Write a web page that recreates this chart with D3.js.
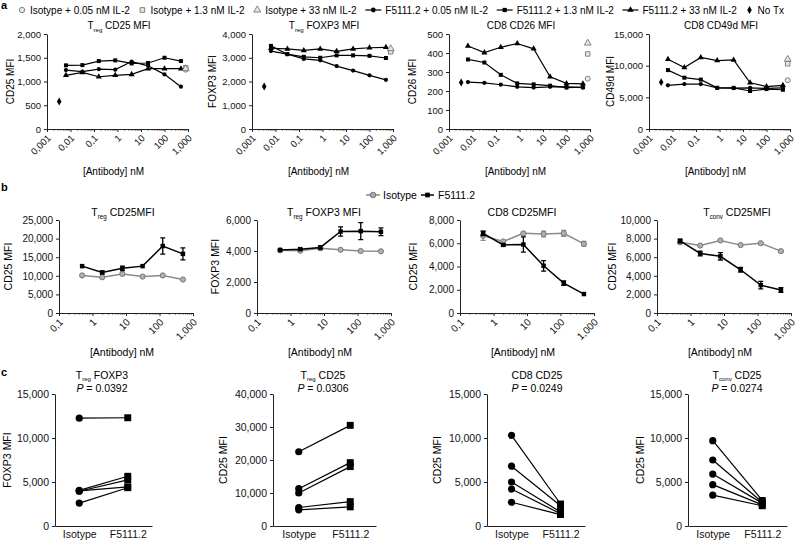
<!DOCTYPE html>
<html><head><meta charset="utf-8">
<script src="https://cdn.jsdelivr.net/npm/d3@7"></script>
<style>
body{margin:0;background:#fff;}
svg{font-family:"Liberation Sans",Arial,Helvetica,sans-serif;}
</style></head><body>
<svg id="c" width="800" height="543"></svg>
<script>
// ===== DATA =====
// Panel a
const aConc = [0.0064, 0.032, 0.16, 0.8, 4, 20, 100, 500];
const aIsoConc = 800;
const aNoTxConc = 0.0033;
const aTickValues = [0.001, 0.01, 0.1, 1, 10, 100, 1000];
const aTickLabels = ["0,001", "0,01", "0,1", "1", "10", "100", "1,000"];
const aLegendLabels = ["Isotype + 0.05 nM IL-2", "Isotype + 1.3 nM IL-2", "Isotype + 33 nM IL-2",
  "F5111.2 + 0.05 nM IL-2", "F5111.2 + 1.3 nM IL-2", "F5111.2 + 33 nM IL-2", "No Tx"];
const aTitles = ["T|reg| CD25 MFI", "T|reg| FOXP3 MFI", "CD8 CD26 MFI", "CD8 CD49d MFI"];
const aYLabels = ["CD25 MFI", "FOXP3 MFI", "CD26 MFI", "CD49d MFI"];
const aYMax = [2000, 4000, 500, 15000];
const aYStep = [500, 1000, 100, 5000];
// series per chart: F5111.2 with IL-2 0.05 / 1.3 / 33 nM
const aTregCD25_low  = [1240, 1210, 1260, 1250, 1420, 1330, 1150, 890];
const aTregCD25_mid  = [1340, 1345, 1430, 1445, 1380, 1390, 1500, 1430];
const aTregCD25_high = [1130, 1190, 1100, 1130, 1150, 1270, 1270, 1270];
const aTregCD25_iso  = [1250, 1290, 1270];
const aTregCD25_noTx = 580;
const aTregFOXP3_low  = [3280, 3150, 2950, 2890, 2650, 2460, 2260, 2070];
const aTregFOXP3_mid  = [3500, 3150, 3040, 3000, 3100, 3100, 3080, 2990];
const aTregFOXP3_high = [3400, 3370, 3310, 3370, 3270, 3370, 3420, 3440];
const aTregFOXP3_iso  = [3300, 3250, 3380];
const aTregFOXP3_noTx = 1790;
const aCD8CD26_low  = [247, 243, 233, 222, 218, 222, 222, 218];
const aCD8CD26_mid  = [366, 350, 285, 240, 235, 228, 218, 220];
const aCD8CD26_high = [437, 402, 430, 450, 422, 275, 240, 238];
const aCD8CD26_iso  = [265, 395, 452];
const aCD8CD26_noTx = 245;
const aCD8CD49d_low  = [6900, 7100, 7100, 6500, 6450, 6500, 6400, 6500];
const aCD8CD49d_mid  = [9300, 8100, 7800, 6500, 6500, 6000, 6300, 6200];
const aCD8CD49d_high = [11000, 9700, 11300, 10800, 10900, 7300, 6700, 6900];
const aCD8CD49d_iso  = [7700, 10300, 11000];
const aCD8CD49d_noTx = 7400;

// Panel b
const bConc = [0.49, 1.95, 7.8, 31.3, 125, 500];
const bTickValues = [0.1, 1, 10, 100, 1000];
const bTickLabels = ["0,1", "1", "10", "100", "1,000"];
const bLegendLabels = ["Isotype", "F5111.2"];
const bTitles = ["T|reg| CD25MFI", "T|reg| FOXP3 MFI", "CD8 CD25MFI", "T|conv| CD25MFI"];
const bYLabels = ["CD25 MFI", "FOXP3 MFI", "CD25 MFI", "CD25 MFI"];
const bYMax = [25000, 6000, 8000, 10000];
const bYStep = [5000, 2000, 2000, 2000];
const bTregCD25_F = [12600, 10900, 12000, 12600, 18000, 15900];
const bTregCD25_Ferr = [0, 400, 600, 0, 2200, 1600];
const bTregCD25_iso = [10100, 9600, 10500, 9800, 10100, 9000];
const bTregCD25_isoErr = [0, 0, 0, 0, 0, 0];
const bTregFOXP3_F = [4060, 4120, 4230, 5260, 5280, 5240];
const bTregFOXP3_Ferr = [0, 50, 100, 300, 550, 250];
const bTregFOXP3_iso = [4050, 4020, 4170, 4080, 4000, 3980];
const bTregFOXP3_isoErr = [0, 0, 0, 0, 0, 0];
const bCD8CD25_F = [6850, 5860, 5890, 4060, 2570, 1630];
const bCD8CD25_Ferr = [200, 100, 650, 450, 200, 0];
const bCD8CD25_iso = [6650, 6150, 6850, 6800, 6850, 5950];
const bCD8CD25_isoErr = [400, 100, 100, 250, 250, 200];
const bTconvCD25_F = [7750, 6400, 6100, 4650, 3000, 2470];
const bTconvCD25_Ferr = [200, 250, 400, 250, 400, 250];
const bTconvCD25_iso = [7600, 7250, 7800, 7300, 7500, 6650];
const bTconvCD25_isoErr = [150, 100, 100, 100, 100, 100];

// Panel c
const cCategories = ["Isotype", "F5111.2"];
const cTitles = ["T|reg| FOXP3", "T|reg| CD25", "CD8 CD25", "T|conv| CD25"];
const cPValues = ["0.0392", "0.0306", "0.0249", "0.0274"];
const cYLabels = ["FOXP3 MFI", "CD25 MFI", "CD25 MFI", "CD25 MFI"];
const cYMax = [15000, 40000, 15000, 15000];
const cYStep = [5000, 10000, 5000, 5000];
const cTregFOXP3_iso = [12250, 4050, 3950, 4000, 2600];
const cTregFOXP3_F   = [12300, 5650, 5250, 4450, 4350];
const cTregCD25_iso  = [22500, 11300, 10000, 5600, 4900];
const cTregCD25_F    = [30500, 19200, 18000, 7400, 5800];
const cCD8CD25_iso   = [10300, 6800, 5000, 4200, 2700];
const cCD8CD25_F     = [2500, 2300, 1600, 1400, 1300];
const cTconvCD25_iso = [9700, 7500, 5900, 4700, 3500];
const cTconvCD25_F   = [2900, 2700, 2600, 2400, 2300];

// ===== DRAWING =====
const svg = d3.select("#c");
const AX = "#222";
const GREY = "#8a8a8a";

function rich(sel, str, subSize, shift) {
  const parts = str.split("|");
  let shifted = false;
  parts.forEach((p, i) => {
    if (!p) return;
    const t = sel.append("tspan").text(p);
    if (i % 2 === 1) { t.attr("font-size", subSize).attr("dy", shift); shifted = true; }
    else if (shifted) { t.attr("dy", -shift); shifted = false; }
  });
}
function yLabel(x, y, text, fs) {
  svg.append("text").attr("transform", `translate(${x},${y}) rotate(-90)`)
    .attr("text-anchor", "middle").attr("dy", "0.35em").attr("font-size", fs).text(text);
}
function styleAxis(g, fs) {
  g.attr("font-family", null).attr("font-size", fs);
  g.selectAll("path,line").attr("stroke", AX);
  g.selectAll("text").attr("fill", "#111");
}
function sym(type, size) { return d3.symbol().type(type).size(size)(); }

function logChart(o) {
  const x = d3.scaleLog().domain(o.domain).range([o.x0, o.x0 + o.w]);
  const y = d3.scaleLinear().domain([0, o.yMax]).range([o.yBot, o.yTop]);
  const ya = svg.append("g").attr("transform", `translate(${o.x0},0)`)
    .call(d3.axisLeft(y).tickValues(d3.range(0, o.yMax + 1, o.yStep)).tickSize(3).tickSizeOuter(0).tickFormat(d3.format(",")));
  styleAxis(ya, o.fs);
  const xa = svg.append("g").attr("transform", `translate(0,${o.yBot})`)
    .call(d3.axisBottom(x).tickValues(o.majors).tickSize(3).tickSizeOuter(0).tickFormat((d, i) => o.labels[i]));
  styleAxis(xa, o.fs);
  xa.selectAll("text").attr("x", -4).attr("y", 3).attr("dy", "0.7em")
    .attr("transform", "rotate(-45)").style("text-anchor", "end");
  const minors = [];
  o.majors.slice(0, -1).forEach(m => { for (let k = 2; k < 10; k++) minors.push(m * k); });
  svg.append("g").selectAll("line").data(minors).join("line")
    .attr("x1", d => x(d)).attr("x2", d => x(d)).attr("y1", o.yBot).attr("y2", o.yBot + 1.6)
    .attr("stroke", AX).attr("stroke-width", 0.8);
  const t = svg.append("text").attr("x", o.titleX).attr("y", o.titleY).attr("text-anchor", "middle").attr("font-size", o.titleFs);
  rich(t, o.title, o.titleFs * 0.6, 2.5);
  yLabel(o.yLabX, (o.yTop + o.yBot) / 2, o.yLabel, o.labFs);
  svg.append("text").attr("x", o.x0 + o.w / 2 - 4).attr("y", o.xLabY).attr("text-anchor", "middle")
    .attr("font-size", o.labFs).text("[Antibody] nM");
  return { x, y };
}

// panel labels
svg.append("text").attr("x", 1).attr("y", 9).attr("font-size", 11).attr("font-weight", "bold").text("a");
svg.append("text").attr("x", 1).attr("y", 191).attr("font-size", 11).attr("font-weight", "bold").text("b");
svg.append("text").attr("x", 1).attr("y", 376).attr("font-size", 11).attr("font-weight", "bold").text("c");

// ---- Panel a legend (laid out from measured text widths) ----
const legA = svg.append("g").attr("font-size", 10);
const legAItems = [
  { sym: d3.symbolCircle, grey: true }, { sym: d3.symbolSquare, grey: true }, { sym: d3.symbolTriangle, grey: true },
  { sym: d3.symbolCircle, grey: false }, { sym: d3.symbolSquare, grey: false }, { sym: d3.symbolTriangle, grey: false },
  { sym: d3.symbolDiamond, grey: false, noLine: true }
];
const legTexts = legAItems.map((it, i) => legA.append("text").attr("y", 10).attr("dy", "0.35em").text(aLegendLabels[i]));
const legWidths = legTexts.map(t => t.node().getComputedTextLength());
const mW = legAItems.map(it => (it.grey || it.noLine) ? 8 : 16);
const innerGap = 4;
const startX = 18, endX = 784;
const used = d3.sum(legWidths) + d3.sum(mW) + innerGap * legAItems.length;
const gap = (endX - startX - used) / (legAItems.length - 1);
let cx = startX;
legAItems.forEach((it, i) => {
  const yy = 10, mid = cx + mW[i] / 2;
  if (!it.grey && !it.noLine) {
    legA.append("line").attr("x1", cx).attr("x2", cx + mW[i]).attr("y1", yy).attr("y2", yy).attr("stroke", "#000").attr("stroke-width", 1.2);
  }
  legA.append("path").attr("d", sym(it.sym, it.grey ? 22 : 18)).attr("transform", `translate(${mid},${yy})`)
    .attr("fill", it.grey ? "#e6e6e6" : "#000").attr("stroke", it.grey ? "#777" : "none").attr("stroke-width", 0.9);
  legTexts[i].attr("x", cx + mW[i] + innerGap);
  cx += mW[i] + innerGap + legWidths[i] + gap;
});

// ---- Panel a charts ----
const aData = [
  [aTregCD25_low, aTregCD25_mid, aTregCD25_high, aTregCD25_iso, aTregCD25_noTx],
  [aTregFOXP3_low, aTregFOXP3_mid, aTregFOXP3_high, aTregFOXP3_iso, aTregFOXP3_noTx],
  [aCD8CD26_low, aCD8CD26_mid, aCD8CD26_high, aCD8CD26_iso, aCD8CD26_noTx],
  [aCD8CD49d_low, aCD8CD49d_mid, aCD8CD49d_high, aCD8CD49d_iso, aCD8CD49d_noTx]
];
const aX0 = [47, 252, 449, 649];
const aYLabX = [10, 212, 412, 610];
const aSyms = [d3.symbolCircle, d3.symbolSquare, d3.symbolTriangle];
const aSymSize = [14, 16, 16];
aData.forEach((d, ci) => {
  const { x, y } = logChart({
    domain: [0.001, 1000], x0: aX0[ci], w: 141, yTop: 34, yBot: 129, yMax: aYMax[ci], yStep: aYStep[ci],
    majors: aTickValues, labels: aTickLabels, fs: 9.5, title: aTitles[ci], titleX: aX0[ci] + 72, titleY: 29, titleFs: 10,
    yLabel: aYLabels[ci], yLabX: aYLabX[ci], labFs: 10, xLabY: 175
  });
  const line = d3.line().x(p => x(p[0])).y(p => y(p[1]));
  [0, 1, 2].forEach(si => {
    const pts = aConc.map((c, k) => [c, d[si][k]]);
    svg.append("path").attr("d", line(pts)).attr("fill", "none").attr("stroke", "#000").attr("stroke-width", 1.2);
    svg.append("g").selectAll("path").data(pts).join("path").attr("d", sym(aSyms[si], aSymSize[si]))
      .attr("transform", p => `translate(${x(p[0])},${y(p[1])})`).attr("fill", "#000");
  });
  d[3].forEach((v, si) => {
    svg.append("path").attr("d", sym(aSyms[si], 20)).attr("transform", `translate(${x(aIsoConc)},${y(v)})`)
      .attr("fill", "#e6e6e6").attr("stroke", "#777").attr("stroke-width", 0.9);
  });
  svg.append("path").attr("d", sym(d3.symbolDiamond, 18)).attr("transform", `translate(${x(aNoTxConc)},${y(d[4])})`).attr("fill", "#000");
});

// ---- Panel b legend ----
const legB = svg.append("g").attr("font-size", 10.5);
legB.append("line").attr("x1", 366).attr("x2", 380).attr("y1", 195).attr("y2", 195).attr("stroke", GREY).attr("stroke-width", 1.5);
legB.append("circle").attr("cx", 373).attr("cy", 195).attr("r", 2.8).attr("fill", "#aaa").attr("stroke", "#777");
legB.append("text").attr("x", 383).attr("y", 195).attr("dy", "0.35em").text(bLegendLabels[0]);
legB.append("line").attr("x1", 421).attr("x2", 434).attr("y1", 195).attr("y2", 195).attr("stroke", "#000").attr("stroke-width", 1.5);
legB.append("path").attr("d", sym(d3.symbolSquare, 22)).attr("transform", "translate(427.5,195)").attr("fill", "#000");
legB.append("text").attr("x", 438).attr("y", 195).attr("dy", "0.35em").text(bLegendLabels[1]);

// ---- Panel b charts ----
const bData = [
  [bTregCD25_F, bTregCD25_Ferr, bTregCD25_iso, bTregCD25_isoErr],
  [bTregFOXP3_F, bTregFOXP3_Ferr, bTregFOXP3_iso, bTregFOXP3_isoErr],
  [bCD8CD25_F, bCD8CD25_Ferr, bCD8CD25_iso, bCD8CD25_isoErr],
  [bTconvCD25_F, bTconvCD25_Ferr, bTconvCD25_iso, bTconvCD25_isoErr]
];
const bX0 = [59, 257, 460, 657];
const bTitleX = [123, 324, 522, 737];
const bYLabX = [8, 215, 413, 612];
bData.forEach((d, ci) => {
  const { x, y } = logChart({
    domain: [0.1, 1000], x0: bX0[ci], w: 134, yTop: 220, yBot: 313, yMax: bYMax[ci], yStep: bYStep[ci],
    majors: bTickValues, labels: bTickLabels, fs: 10, title: bTitles[ci], titleX: bTitleX[ci], titleY: 216, titleFs: 10.5,
    yLabel: bYLabels[ci], yLabX: bYLabX[ci], labFs: 10.5, xLabY: 356
  });
  const line = d3.line().x(p => x(p[0])).y(p => y(p[1]));
  const drawSeries = (vals, errs, color, isIso) => {
    const pts = bConc.map((c, k) => [c, vals[k], errs[k]]);
    const g = svg.append("g");
    g.append("path").attr("d", line(pts)).attr("fill", "none").attr("stroke", color).attr("stroke-width", 1.5);
    pts.filter(p => p[2] > 0).forEach(p => {
      const xx = x(p[0]), y1 = y(p[1] - p[2]), y2 = y(p[1] + p[2]);
      g.append("path").attr("d", `M${xx},${y1}V${y2}M${xx - 2.5},${y1}H${xx + 2.5}M${xx - 2.5},${y2}H${xx + 2.5}`)
        .attr("stroke", color).attr("stroke-width", 1.3).attr("fill", "none");
    });
    if (isIso) {
      g.selectAll("circle").data(pts).join("circle").attr("cx", p => x(p[0])).attr("cy", p => y(p[1]))
        .attr("r", 2.6).attr("fill", "#b0b0b0").attr("stroke", "#777").attr("stroke-width", 1);
    } else {
      g.selectAll(".m").data(pts).join("path").attr("d", sym(d3.symbolSquare, 20))
        .attr("transform", p => `translate(${x(p[0])},${y(p[1])})`).attr("fill", "#000");
    }
  };
  drawSeries(d[2], d[3], GREY, true);
  drawSeries(d[0], d[1], "#000", false);
});

// ---- Panel c charts ----
const cData = [
  [cTregFOXP3_iso, cTregFOXP3_F], [cTregCD25_iso, cTregCD25_F],
  [cCD8CD25_iso, cCD8CD25_F], [cTconvCD25_iso, cTconvCD25_F]
];
const cX0 = [55, 273, 487, 688];
const cW = [97, 103, 98, 99];
const cTitleX = [102, 323, 537, 737];
const cYLabX = [7, 223, 437, 640];
cData.forEach((d, ci) => {
  const x = d3.scalePoint().domain(cCategories).range([cX0[ci], cX0[ci] + cW[ci]]).padding(0.5);
  const y = d3.scaleLinear().domain([0, cYMax[ci]]).range([526, 394]);
  const ya = svg.append("g").attr("transform", `translate(${cX0[ci]},0)`)
    .call(d3.axisLeft(y).tickValues(d3.range(0, cYMax[ci] + 1, cYStep[ci])).tickSize(3).tickSizeOuter(0).tickFormat(d3.format(",")));
  styleAxis(ya, 10.5);
  const xa = svg.append("g").attr("transform", "translate(0,526)")
    .call(d3.axisBottom(x).tickSize(0).tickSizeOuter(0).tickPadding(5));
  styleAxis(xa, 10.5);
  const t = svg.append("text").attr("x", cTitleX[ci]).attr("y", 379).attr("text-anchor", "middle").attr("font-size", 10.5);
  rich(t, cTitles[ci], 6, 1.8);
  const p = svg.append("text").attr("x", cTitleX[ci]).attr("y", 392).attr("text-anchor", "middle").attr("font-size", 10.5);
  p.append("tspan").attr("font-style", "italic").text("P");
  p.append("tspan").text(" = " + cPValues[ci]);
  yLabel(cYLabX[ci], 460, cYLabels[ci], 10.5);
  const g = svg.append("g");
  d[0].forEach((v, k) => {
    g.append("line").attr("x1", x(cCategories[0])).attr("y1", y(v)).attr("x2", x(cCategories[1])).attr("y2", y(d[1][k]))
      .attr("stroke", "#000").attr("stroke-width", 1.2);
  });
  g.selectAll("circle").data(d[0]).join("circle").attr("cx", x(cCategories[0])).attr("cy", v => y(v)).attr("r", 3.6).attr("fill", "#000");
  g.selectAll(".sq").data(d[1]).join("path").attr("d", sym(d3.symbolSquare, 48))
    .attr("transform", v => `translate(${x(cCategories[1])},${y(v)})`).attr("fill", "#000");
});
</script>
</body></html>
